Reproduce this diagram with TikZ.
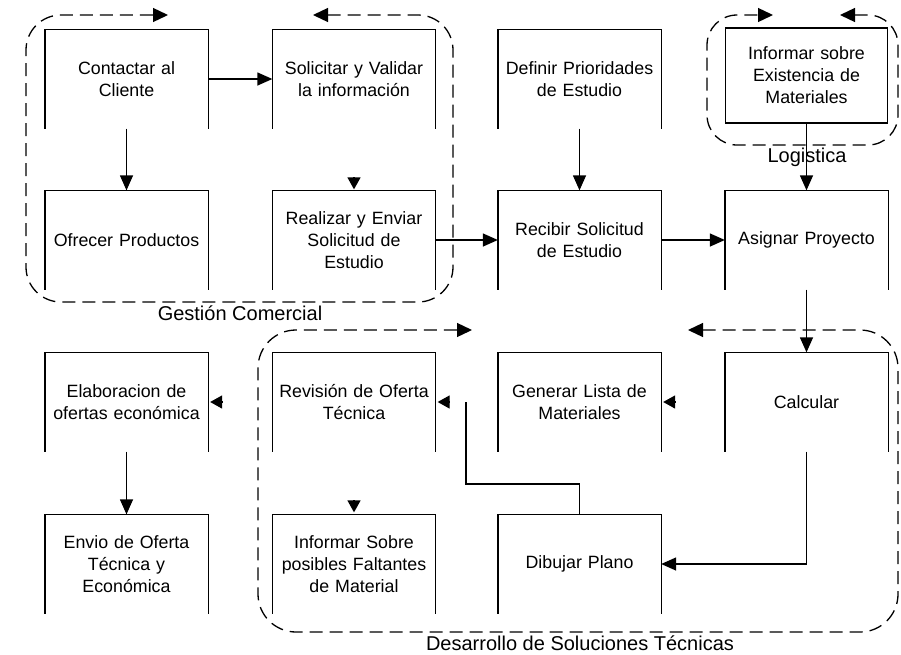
\documentclass[tikz,border=0pt]{standalone}
\usepackage{fontspec}
\setmainfont{Liberation Sans}
\usetikzlibrary{arrows.meta}
\begin{document}
\begin{tikzpicture}[x=1pt,y=-1pt,
  line width=1.3pt,
  stepbox/.style={minimum width=162pt,minimum height=98pt,inner sep=0pt,
    text width=150pt,align=center,font=\fontsize{17.8}{22}\selectfont},
  fullbox/.style={stepbox,draw,minimum height=95pt},
  flow/.style={-{Triangle[length=15pt,width=13pt]}},
  tipmark/.style={-{Triangle[length=12pt,width=13pt]}},
  lane/.style={dash pattern=on 13pt off 7pt,{Triangle[length=15pt,width=14pt]}-{Triangle[length=15pt,width=14pt]}},
  lanelabel/.style={font=\fontsize{20}{24}\selectfont,inner sep=0pt}]
\useasboundingbox (0,0) rectangle (901,654);

% process steps (open at the bottom)
\node[stepbox] (contactar) at (126.5,79)  {Contactar al\\Cliente};
\node[stepbox] (solicitar) at (354,79)    {Solicitar y Validar\\la información};
\node[stepbox] (definir)   at (579.5,79)  {Definir Prioridades\\de Estudio};
\node[fullbox] (existencia) at (806.5,75.5) {Informar sobre\\Existencia de\\Materiales};
\node[stepbox] (ofrecer)   at (126.5,240) {Ofrecer Productos};
\node[stepbox] (realizar)  at (354,240)   {Realizar y Enviar\\Solicitud de\\Estudio};
\node[stepbox] (recibir)   at (579.5,240) {Recibir Solicitud\\de Estudio};
\node[stepbox] (asignar)   at (806.5,240) {Asignar Proyecto};
\node[stepbox] (elaborar)  at (126.5,402) {Elaboracion de\\ofertas económica};
\node[stepbox] (revision)  at (354,402)   {Revisión de Oferta\\Técnica};
\node[stepbox] (generar)   at (579.5,402) {Generar Lista de\\Materiales};
\node[stepbox] (calcular)  at (806.5,402) {Calcular};
\node[stepbox] (envio)     at (126.5,564) {Envio de Oferta\\Técnica y\\Económica};
\node[stepbox] (faltantes) at (354,564)   {Informar Sobre\\posibles Faltantes\\de Material};
\node[stepbox] (dibujar)   at (579.5,564) {Dibujar Plano};

\foreach \n in {contactar,solicitar,definir,ofrecer,realizar,recibir,asignar,
                elaborar,revision,generar,calcular,envio,faltantes,dibujar}
  \draw (\n.south west) -- (\n.north west) -- (\n.north east) -- (\n.south east);

% swimlanes
\draw[lane,rounded corners=35pt] (313,15) -- (453,15) -- (453,302) -- (26,302) -- (26,15) -- (168,15);
\node[lanelabel] (lgestion) at (240,313) {Gestión Comercial};
\draw[lane,rounded corners=30pt] (840,15) -- (898,15) -- (898,145) -- (707,145) -- (707,15) -- (773,15);
\node[lanelabel] (llogistica) at (807,157) {Logistica};
\draw[lane,rounded corners=38pt] (688,330) -- (898,330) -- (898,632) -- (258,632) -- (258,330) -- (472,330);
\node[lanelabel] (ldesarrollo) at (580,643) {Desarrollo de Soluciones Técnicas};

% connectors
\draw[flow] (contactar) -- (solicitar);
\draw[flow] (contactar) -- (ofrecer);
\draw[flow] (realizar) -- (recibir);
\draw[flow] (definir) -- (recibir);
\draw[flow] (recibir) -- (asignar);
\draw[flow] (existencia) -- (asignar);
\draw[flow] (asignar) -- (calcular);
\draw[flow] (elaborar) -- (envio);
\draw[flow] (calcular.south) |- (dibujar.east);
\coordinate (j1) at (466,484);
\coordinate (j2) at (466,402);
\draw (dibujar.north) |- (j1) -- (j2);

% arrow tips without a visible shaft
\draw[tipmark] ([yshift=13pt]realizar.north) -- ([yshift=1pt]realizar.north);
\draw[tipmark] ([xshift=14pt]generar.east) -- ([xshift=2pt]generar.east);
\draw[tipmark] ([xshift=14pt]revision.east) -- ([xshift=2pt]revision.east);
\draw[tipmark] ([xshift=14pt]elaborar.east) -- ([xshift=2pt]elaborar.east);
\draw[tipmark] ([yshift=14pt]faltantes.north) -- ([yshift=2pt]faltantes.north);
\end{tikzpicture}
\end{document}
